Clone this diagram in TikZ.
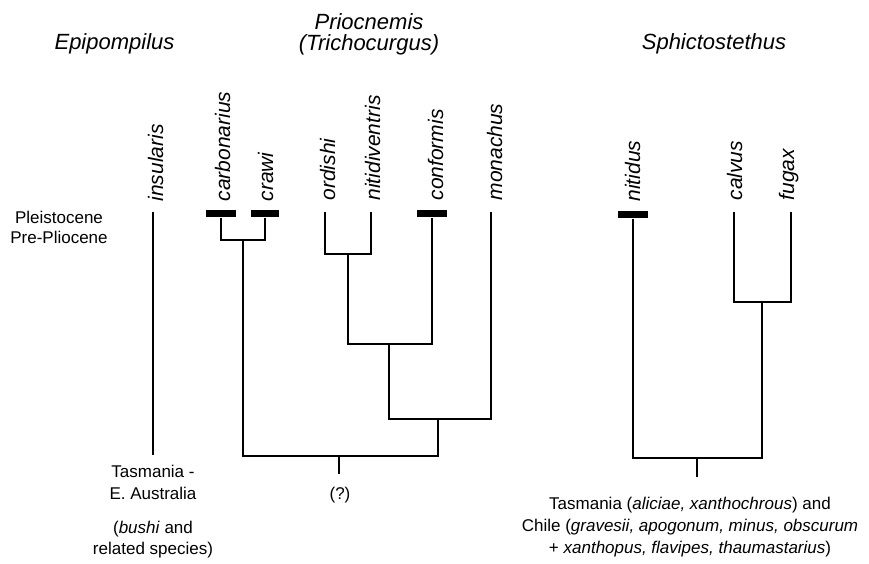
\documentclass[tikz,border=0pt]{standalone}
\usepackage{fontspec}
\setmainfont{Liberation Sans}
\begin{document}
\begin{tikzpicture}[x=1pt,y=-1pt,line width=1.1pt,
  sp/.style={font=\fontsize{21}{21}\selectfont\itshape,rotate=90,anchor=base west,inner sep=0pt},
  hdr/.style={font=\fontsize{22}{21}\selectfont\itshape,inner sep=0pt,align=center},
  txt/.style={font=\fontsize{17}{22}\selectfont,inner sep=0pt,align=center,anchor=north},
  bar/.style={fill=black,draw=none,minimum width=30pt,minimum height=7pt,inner sep=0pt}]
\useasboundingbox (0,0) rectangle (869,563);

% headers
\node[hdr,anchor=base] (hEpi) at (114.5,49) {Epipompilus};
\node[hdr,anchor=north] (hPri) at (369,13) {Priocnemis\\(Trichocurgus)};
\node[hdr,anchor=base] (hSph) at (714,49) {Sphictostethus};

% species labels
\node[sp] (l-ins) at (163,202) {insularis};
\node[sp] (l-carb) at (230,202) {carbonarius};
\node[sp] (l-craw) at (273,202) {crawi};
\node[sp] (l-ord) at (335,201) {ordishi};
\node[sp] (l-nit) at (380,201) {nitidiventris};
\node[sp] (l-conf) at (443,201) {conformis};
\node[sp] (l-mon) at (502,201) {monachus};
\node[sp] (l-nitd) at (640,202) {nitidus};
\node[sp] (l-cal) at (742,201) {calvus};
\node[sp] (l-fug) at (794,201) {fugax};

% side and bottom texts
\node[txt,font=\fontsize{17}{20}\selectfont] (epoch) at (59,211) {Pleistocene\\Pre-Pliocene};
\node[txt] (tasL) at (153,465) {Tasmania -\\E. Australia};
\node[txt,font=\fontsize{17}{21}\selectfont] (bushi) at (153,521) {(\textit{bushi} and\\related species)};
\node[txt] (q) at (340,487) {(?)};
\node[txt] (tasR) at (690,497) {Tasmania (\textit{aliciae, xanthochrous}) and\\Chile (\textit{gravesii, apogonum, minus, obscurum}\\+ \textit{xanthopus, flavipes, thaumastarius})};

% tips
\coordinate (t-ins) at (153,212);
\coordinate (e-ins) at (153,455);
\node[bar] (b-carb) at (221,213.5) {};
\node[bar,minimum width=28pt] (b-craw) at (265,213.5) {};
\coordinate (t-ord) at (325,212);
\coordinate (t-nit) at (371,212);
\node[bar] (b-conf) at (432,213.5) {};
\coordinate (t-mon) at (491,212);
\node[bar] (b-nitd) at (633,214.5) {};
\coordinate (t-cal) at (734,212);
\coordinate (t-fug) at (791,212);

% junctions
\coordinate (j1) at (243,240);
\coordinate (j2) at (348,254);
\coordinate (j3) at (389,344);
\coordinate (j4) at (438,419);
\coordinate (j5) at (339,456);
\coordinate (r1) at (339,474);
\coordinate (k1) at (762,302);
\coordinate (k2) at (697,458);
\coordinate (r2) at (697,477);

% Epipompilus
\draw (t-ins) -- (e-ins);
% Priocnemis
\draw (b-carb) |- (j1) -| (b-craw);
\draw (t-ord) |- (j2) -| (t-nit);
\draw (j2) |- (j3) -| (b-conf);
\draw (j3) |- (j4) -| (t-mon);
\draw (j1) |- (j5) -| (j4);
\draw (j5) -- (r1);
% Sphictostethus
\draw (t-cal) |- (k1) -| (t-fug);
\draw (b-nitd) |- (k2) -| (k1);
\draw (k2) -- (r2);
\end{tikzpicture}
\end{document}
